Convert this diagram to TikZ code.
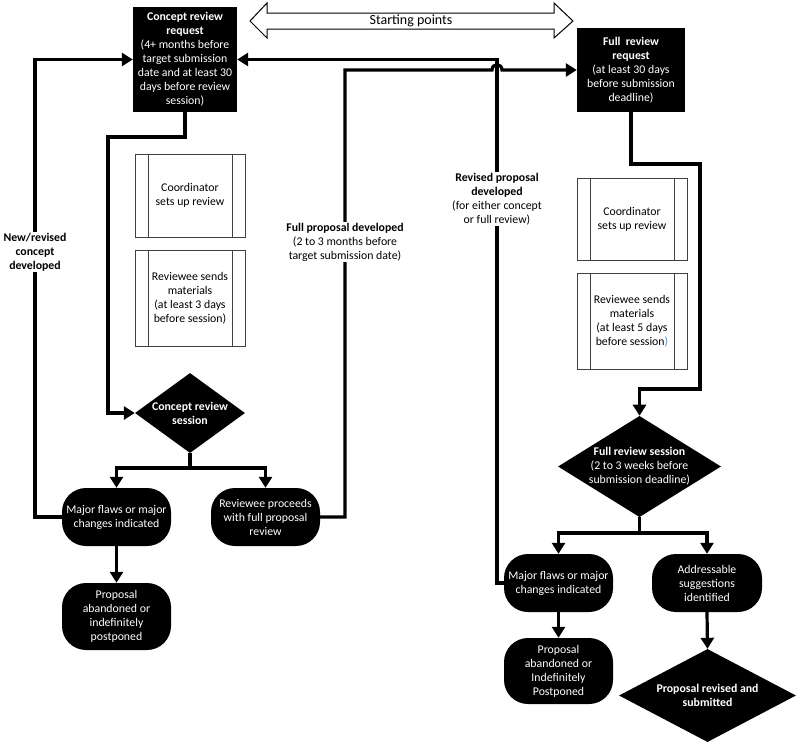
\documentclass[tikz,border=0pt]{standalone}
\usepackage{fontspec}
\setmainfont{Carlito}
\usepackage{xcolor}
\definecolor{parenblue}{rgb}{0.25, 0.55, 0.85}
\usepackage{tikz}
\usetikzlibrary{arrows.meta,shapes.geometric,calc}
\tikzset{
	flow/.style = {
			draw,
			line width = 3.2pt,
			-{Triangle[length=11pt,width=13pt]},
		},
	request/.style = {
			rectangle,
			fill = black,
			text = white,
			align = center,
			inner sep = 0pt,
		},
	terminal/.style = {
			rectangle,
			rounded corners = 24pt,
			fill = black,
			text = white,
			align = center,
			minimum width = 109pt,
			minimum height = 58pt,
			inner sep = 0pt,
		},
	decision/.style = {
			diamond,
			fill = black,
			text = white,
			align = center,
			inner sep = 0pt,
		},
	process/.style = {
			rectangle,
			draw = black!75,
			line width = 0.9pt,
			align = center,
			minimum width = 110pt,
			path picture = {
					\draw[black!75, line width=0.9pt]
					([xshift=13pt]path picture bounding box.north west) -- ([xshift=13pt]path picture bounding box.south west)
					([xshift=-13pt]path picture bounding box.north east) -- ([xshift=-13pt]path picture bounding box.south east);
				},
		},
	note/.style = {
			fill = white,
			align = center,
			inner sep = 1pt,
		},
}

\begin{document}
\begin{tikzpicture}[x=1pt, y=-1pt, font=\fontsize{11.8}{14}\selectfont]
	\useasboundingbox (0,0) rectangle (800,748);

	% starting points
	\draw[line width=1pt, fill=white] (250,21) -- (267,3) -- (267,13) -- (554,13) -- (554,3) -- (573,21)
	-- (554,38) -- (554,29) -- (267,29) -- (267,38) -- cycle;
	\node at (411,21) (start) {\fontsize{14}{14}\selectfont Starting points};

	% concept review branch
	\node at (185,59.5) (conreq) [request, minimum width=104pt, minimum height=105pt]
	{\textbf{Concept review}\\\textbf{request}\\(4+ months before\\target submission\\date and at least 30\\days before review\\session)};
	\node at (190,195.5) (cprc1) [process, minimum height=83pt] {Coordinator\\sets up review};
	\node at (190,298) (cprc2) [process, minimum height=96pt] {Reviewee sends\\materials\\(at least 3 days\\before session)};
	\node at (190,413) (consess) [decision, shape aspect=1.375, minimum width=110pt, minimum height=80pt]
	{\textbf{Concept review}\\\textbf{session}};
	\node at (116.5,517) (cmf) [terminal] {Major flaws or major\\changes indicated};
	\node at (265.5,517) (crev) [terminal] {Reviewee proceeds\\with full proposal\\review};
	\node at (116.5,616.5) (cab) [terminal, minimum height=67pt] {Proposal\\abandoned or\\indefinitely\\postponed};

	% full review branch
	\node at (631,70) (frreq) [request, minimum width=108pt, minimum height=84pt]
	{\textbf{Full\ \ review}\\\textbf{request}\\(at least 30 days\\before submission\\deadline)};
	\node at (632,219) (fprc1) [process, minimum height=82pt] {Coordinator\\sets up review};
	\node at (632,321) (fprc2) [process, minimum height=96pt] {Reviewee sends\\materials\\(at least 5 days\\before session\textcolor{parenblue}{)}};
	\node at (639.5,466.5) (frsess) [decision, shape aspect=1.6, minimum width=163pt, minimum height=101pt]
	{\textbf{Full review session}\\(2 to 3 weeks before\\submission deadline)};
	\node at (558.5,583) (fmf) [terminal] {Major flaws or major\\changes indicated};
	\node at (707,583) (fadr) [terminal, minimum width=110pt] {Addressable\\suggestions\\identified};
	\node at (558.5,671) (fab) [terminal, minimum height=66pt] {Proposal\\abandoned or\\Indefinitely\\Postponed};
	\node at (707.5,695.5) (fsub) [decision, shape aspect=1.9, minimum width=177pt, minimum height=93pt]
	{\textbf{Proposal revised and}\\\textbf{submitted}};

	% bends
	\coordinate (cbend) at (108,137);
	\coordinate (csplit) at (190,468);
	\coordinate (nbend) at (35,59.5);
	\coordinate (pbend) at (345,70);
	\coordinate (rbend) at (497,59.5);
	\coordinate (fbend1) at (700,164);
	\coordinate (fbend2) at (700,389);
	\coordinate (fsplit) at (639.5,533);

	% concept connectors
	\draw[flow] (conreq.south) |- (cbend) |- (consess.west);
	\draw[flow] (consess.south) -- (csplit) -| (cmf.north);
	\draw[flow] (csplit) -| (crev.north);
	\draw[flow] (cmf.south) -- (cab.north);
	\draw[flow] (cmf.west) -| (nbend) -- (conreq.west);
	\draw[flow] (crev.east) -| (pbend) -- (492,70) .. controls (492,63) and (502,63) .. (502,70) -- (frreq.west);
	\draw[flow] (fmf.west) -| (rbend) -- (conreq.east);

	% full review connectors
	\draw[flow] (frreq.south) |- (fbend1) -- (fbend2) -| (frsess.north);
	\draw[flow] (frsess.south) -- (fsplit) -| (fmf.north);
	\draw[flow] (fsplit) -| (fadr.north);
	\draw[flow] (fmf.south) -- (fab.north);
	\draw[flow] (fadr.south) -- (fsub.north);

	% path labels
	\node at (35,252) (nlabel) [note] {\textbf{New/revised}\\\textbf{concept}\\\textbf{developed}};
	\node at (345,242) (plabel) [note] {\textbf{Full proposal developed}\\(2 to 3 months before\\target submission date)};
	\node at (497,199) (rlabel) [note] {\textbf{Revised proposal}\\\textbf{developed}\\(for either concept\\or full review)};
\end{tikzpicture}
\end{document}
